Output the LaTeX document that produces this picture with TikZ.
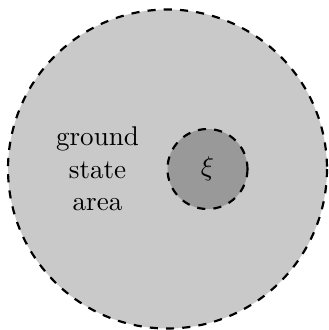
\documentclass[tikz,border=0pt]{standalone}
\begin{document}
\begin{tikzpicture}[x=0.369pt,y=-0.369pt,
  region/.style={draw=black,dashed,thick},
  lbl/.style={align=center,inner sep=0pt}]
\useasboundingbox (0,0) rectangle (329,330);
\fill[black!21] (167.5,169) circle[radius=159.5];
\draw[region] (167.5,169) circle[radius=159.5];
\fill[black!40] (207.5,169) circle[radius=40];
\draw[region] (207.5,169) circle[radius=40];
\node[lbl] (gsa) at (97.5,169) {ground\\state\\area};
\node[lbl] (xi) at (207.5,169) {$\xi$};
\end{tikzpicture}
\end{document}
